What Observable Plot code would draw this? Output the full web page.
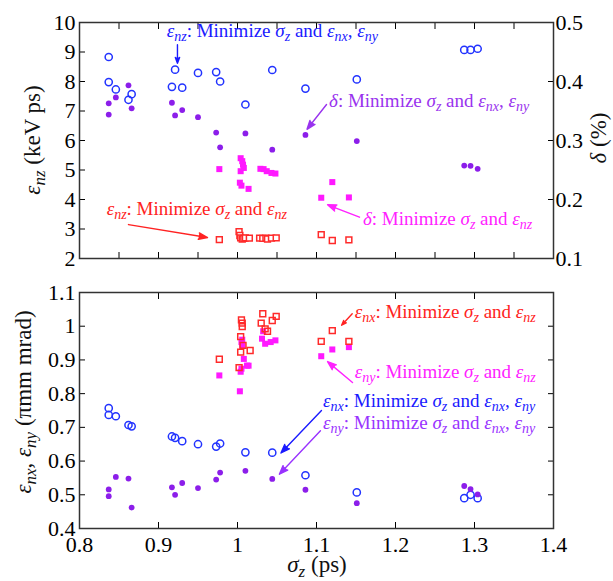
<!DOCTYPE html>
<html lang="en"><head><meta charset="utf-8">
<script src="https://cdn.jsdelivr.net/npm/d3@7"></script>
<script src="https://cdn.jsdelivr.net/npm/@observablehq/plot@0.6"></script>
<style>
body{margin:0;background:#fff;font-family:"Liberation Serif";}
#chart{width:613px;height:581px;}
#chart svg{display:block;}
#chart svg, #chart svg text, #chart svg tspan{font-family:"Liberation Serif" !important;}
</style></head><body><div id="chart"></div>
<script>
// ---------- data (σz in ps) ----------
// Runs: minimize σz and εnx, εny
const sigA = [0.837,0.837,0.846,0.862,0.866,0.917,0.921,0.930,0.950,0.973,0.978,1.010,1.044,1.086,1.151,1.287,1.295,1.304];
const enzA = [8.83,7.98,7.73,7.38,7.57,7.82,8.40,7.79,8.29,8.32,8.00,7.22,8.39,7.76,8.07,9.07,9.07,9.11];
const deltaA = [0.344,0.363,0.373,0.3935,0.3545,0.364,0.3425,0.3515,0.3395,0.3135,0.2885,0.312,0.2845,0.3095,0.299,0.2575,0.257,0.252];
const enxA = [0.757,0.737,0.733,0.707,0.703,0.673,0.669,0.659,0.650,0.643,0.652,0.626,0.625,0.558,0.507,0.490,0.500,0.490];
const enyA = [0.516,0.496,0.553,0.548,0.462,0.522,0.500,0.535,0.520,0.545,0.566,0.571,0.547,0.515,0.475,0.526,0.517,0.501];

// Runs: minimize σz and εnz
const sigBnz = [0.977,1.002,1.003,1.004,1.006,1.008,1.010,1.015,1.028,1.032,1.036,1.038,1.043,1.049,1.106,1.120,1.141];
const enzB = [2.64,2.91,2.78,2.70,2.66,2.68,2.70,2.69,2.69,2.68,2.69,2.66,2.69,2.70,2.81,2.61,2.63];
const sigBd = [0.977,1.004,1.006,1.007,1.008,1.004,1.003,1.005,1.014,1.029,1.033,1.037,1.043,1.048,1.106,1.120,1.141];
const deltaB = [0.2515,0.270,0.265,0.259,0.2535,0.248,0.2285,0.2235,0.218,0.252,0.2515,0.248,0.245,0.244,0.203,0.2295,0.2035];
const sigBnx = [0.977,1.002,1.004,1.004,1.005,1.006,1.006,1.007,1.016,1.030,1.032,1.035,1.038,1.044,1.049,1.106,1.120,1.141];
const enxB = [0.902,0.877,0.969,0.923,1.019,1.009,0.999,0.943,0.928,1.009,1.037,0.992,0.985,1.017,1.029,0.955,0.987,0.955];
const sigBny = [0.977,1.003,1.004,1.005,1.005,1.006,1.006,1.008,1.012,1.014,1.031,1.0325,1.035,1.042,1.048,1.106,1.120,1.141];
const enyB = [0.854,0.807,0.865,0.874,0.953,0.943,0.960,0.903,0.883,0.883,0.963,0.985,0.948,0.953,0.958,0.911,0.931,0.938];

// ---------- ticks ----------
const xTicks = [0.8,0.9,1.0,1.1,1.2,1.3,1.4];
const xTicksFine = [0.8,0.85,0.9,0.95,1.0,1.05,1.1,1.15,1.2,1.25,1.3,1.35,1.4];
const enzTicks = [2,3,4,5,6,7,8,9,10];
const deltaTicks = [0.1,0.2,0.3,0.4,0.5];
const emitTicks = [0.4,0.5,0.6,0.7,0.8,0.9,1.0,1.1];

// secondary axis: δ (%) 0.1–0.5 shares the εnz 2–10 range
const toEnz = d => 2 + (d - 0.1) * 20;
const fromEnz = v => 0.1 + (v - 2) / 20;
const fmt = v => String(Math.round(v * 100) / 100);

// ---------- annotations (data units) ----------
const annTop = [
  {x:0.911, y:9.49, c:"#1a1aff", s:"ε_{nz}: Minimize σ_{z} and ε_{nx}, ε_{ny}", a:[0.924,9.25,0.924,8.62]},
  {x:1.1165, y:7.12, c:"#9933ee", s:"δ: Minimize σ_{z} and ε_{nx}, ε_{ny}", a:[1.1127,7.22,1.0880,6.38]},
  {x:0.835, y:3.46, c:"#ff2222", s:"ε_{nz}: Minimize σ_{z} and ε_{nz}", a:[0.862,3.15,0.962,2.71]},
  {x:1.1595, y:3.12, c:"#ff22ff", s:"δ: Minimize σ_{z} and ε_{nz}", a:[1.1544,3.40,1.1140,3.82]}
];
const annBot = [
  {x:1.149, y:1.022, c:"#ff2222", s:"ε_{nx}: Minimize σ_{z} and ε_{nz}", a:[1.1452,1.0368,1.1318,1.003]},
  {x:1.149, y:0.844, c:"#ff22ff", s:"ε_{ny}: Minimize σ_{z} and ε_{nz}", a:[1.1456,0.833,1.1140,0.895]},
  {x:1.1089, y:0.758, c:"#1a1aff", s:"ε_{nx}: Minimize σ_{z} and ε_{nx}, ε_{ny}", a:[1.1063,0.750,1.0550,0.624]},
  {x:1.1089, y:0.695, c:"#9933ff", s:"ε_{ny}: Minimize σ_{z} and ε_{nx}, ε_{ny}", a:[1.105,0.690,1.0530,0.561]}
];

const FONT = "Liberation Serif";
const C = {blue:"#2233ff", purple:"#8c1eea", red:"#ff2a2a", magenta:"#ff19ff"};
const pts = (xs, ys) => xs.map((x, i) => ({x, y: ys[i]}));

function arrows(list) {
  return list.map(d => Plot.arrow([d.a], {x1: v => v[0], y1: v => v[1], x2: v => v[2], y2: v => v[3],
    stroke: d.c, fill: d.c, strokeWidth: 1.4, headLength: 10, headAngle: 40}));
}

const common = {
  width: 613, marginLeft: 79, marginRight: 60,
  x: {domain: [0.8, 1.4]},
  style: {fontFamily: FONT, fontSize: "22px"}
};

const topPlot = Plot.plot({
  ...common, height: 270, marginTop: 22, marginBottom: 12,
  y: {domain: [2, 10]},
  marks: [
    Plot.axisX(xTicksFine, {anchor: "bottom", tickSize: -6, tickFormat: () => "", label: null}),
    Plot.axisX(xTicksFine, {anchor: "top", tickSize: -6, tickFormat: () => "", label: null}),
    Plot.axisY(enzTicks, {anchor: "left", tickSize: -6, tickPadding: 10, tickFormat: fmt, label: null, fontFamily: FONT}),
    Plot.axisY(deltaTicks.map(toEnz), {anchor: "right", tickSize: -6, tickPadding: 8, tickFormat: v => fromEnz(v).toFixed(1), label: null, fontFamily: FONT}),
    Plot.frame({stroke: "#333", strokeWidth: 1.5}),
    Plot.dot(pts(sigA, enzA), {x: "x", y: "y", r: 3.6, stroke: C.blue, strokeWidth: 1.5, fill: "none"}),
    Plot.dot(pts(sigA, deltaA.map(toEnz)), {x: "x", y: "y", r: 2.9, fill: C.purple}),
    Plot.dot(pts(sigBd, deltaB.map(toEnz)), {x: "x", y: "y", r: 3.4, symbol: "square", fill: C.magenta}),
    Plot.dot(pts(sigBnz, enzB), {x: "x", y: "y", r: 3.3, symbol: "square", stroke: C.red, strokeWidth: 1.5, fill: "white"}),
    ...arrows(annTop)
  ]
});

const botPlot = Plot.plot({
  ...common, height: 311, marginTop: 22, marginBottom: 53,
  y: {domain: [0.4, 1.1]},
  marks: [
    Plot.axisX(xTicks, {anchor: "bottom", tickSize: -6, tickPadding: 14, tickFormat: fmt, label: null, fontFamily: FONT}),
    Plot.axisX(xTicks, {anchor: "top", tickSize: -6, tickFormat: () => "", label: null}),
    Plot.axisY(emitTicks, {anchor: "left", tickSize: -6, tickPadding: 10, tickFormat: fmt, label: null, fontFamily: FONT}),
    Plot.axisY(emitTicks, {anchor: "right", tickSize: -6, tickFormat: () => "", label: null}),
    Plot.frame({stroke: "#333", strokeWidth: 1.5}),
    Plot.dot(pts(sigA, enxA), {x: "x", y: "y", r: 3.6, stroke: C.blue, strokeWidth: 1.5, fill: "none"}),
    Plot.dot(pts(sigA, enyA), {x: "x", y: "y", r: 2.9, fill: C.purple}),
    Plot.dot(pts(sigBny, enyB), {x: "x", y: "y", r: 3.4, symbol: "square", fill: C.magenta}),
    Plot.dot(pts(sigBnx, enxB), {x: "x", y: "y", r: 3.3, symbol: "square", stroke: C.red, strokeWidth: 1.5, fill: "none"}),
    ...arrows(annBot)
  ]
});

const host = document.getElementById("chart");
host.append(topPlot, botPlot);

// rich text with subscripts
function rich(sel, str, size) {
  sel.attr("font-size", size).attr("font-family", FONT);
  const tokens = str.split(/(_\{[^}]*\})/).filter(s => s.length);
  let shift = 0;
  for (const t of tokens) {
    if (t.startsWith("_{")) {
      const d = Math.round(size * 0.22);
      sel.append("tspan").attr("dy", d).attr("font-size", Math.round(size * 0.72)).attr("font-style", "italic").text(t.slice(2, -1));
      shift += d;
    } else {
      const parts = t.split(/([εσδ])/).filter(s => s.length);
      for (const p of parts) {
        const ts = sel.append("tspan").text(p);
        if (shift) { ts.attr("dy", -shift); shift = 0; }
        if (/[εσδ]/.test(p)) ts.attr("font-style", "italic");
      }
    }
  }
  return sel;
}

function annotate(plot, list) {
  const sx = plot.scale("x"), sy = plot.scale("y");
  const svg = d3.select(plot);
  for (const d of list) {
    rich(svg.append("text").attr("x", sx.apply(d.x)).attr("y", sy.apply(d.y))
      .attr("text-anchor", "start").attr("fill", d.c), d.s, 19);
  }
}
annotate(topPlot, annTop);
annotate(botPlot, annBot);

// axis titles
{
  const sy = topPlot.scale("y");
  const cy = (sy.apply(2) + sy.apply(10)) / 2;
  rich(d3.select(topPlot).append("text").attr("transform", `translate(40,${cy}) rotate(-90)`).attr("text-anchor", "middle").attr("fill", "#111"), "ε_{nz} (keV ps)", 23);
  rich(d3.select(topPlot).append("text").attr("transform", `translate(606,${cy - 2}) rotate(-90)`).attr("text-anchor", "middle").attr("fill", "#111"), "δ (%)", 23);
  const by = botPlot.scale("y");
  const cb = (by.apply(0.4) + by.apply(1.1)) / 2 - 8;
  rich(d3.select(botPlot).append("text").attr("transform", `translate(31,${cb}) rotate(-90)`).attr("text-anchor", "middle").attr("fill", "#111"), "ε_{nx}, ε_{ny} (πmm mrad)", 23);
  const bx = botPlot.scale("x");
  rich(d3.select(botPlot).append("text").attr("x", (bx.apply(0.8) + bx.apply(1.4)) / 2 + 1).attr("y", 302).attr("text-anchor", "middle").attr("fill", "#111"), "σ_{z} (ps)", 23);
}
</script></body></html>
